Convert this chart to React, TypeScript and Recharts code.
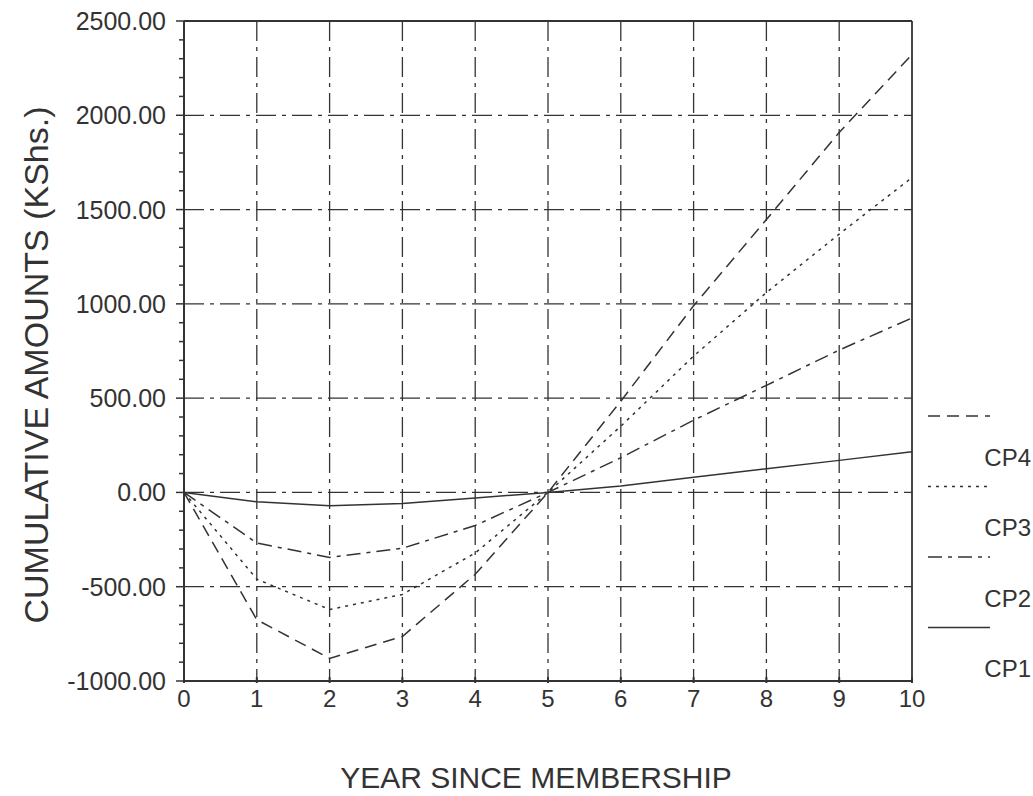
import React from "react";
import {
  LineChart,
  Line,
  XAxis,
  YAxis,
  CartesianGrid,
  ReferenceLine,
} from "recharts";

// years since membership
const years = [0, 1, 2, 3, 4, 5, 6, 7, 8, 9, 10];

// cumulative amounts (KShs.)
const cp1 = [0, -50, -71, -59, -29, 0, 34, 81, 126, 170, 216];
const cp2 = [0, -268, -345, -296, -175, 0, 184, 383, 568, 755, 925];
const cp3 = [0, -460, -621, -541, -321, 0, 351, 723, 1060, 1370, 1670];
const cp4 = [0, -675, -880, -764, -434, 0, 484, 990, 1447, 1909, 2322];

const xTicks = [0, 1, 2, 3, 4, 5, 6, 7, 8, 9, 10];
const xGrid = [1, 2, 3, 4, 5, 6, 7, 8, 9];
const yGrid = [-500, 0, 500, 1000, 1500, 2000];
const yTicks = [
  -1000, -900, -800, -700, -600, -500, -400, -300, -200, -100, 0, 100, 200,
  300, 400, 500, 600, 700, 800, 900, 1000, 1100, 1200, 1300, 1400, 1500, 1600,
  1700, 1800, 1900, 2000, 2100, 2200, 2300, 2400, 2500,
];

const series = [
  { key: "cp4", name: "CP4", dash: "12 7" },
  { key: "cp3", name: "CP3", dash: "3 5" },
  { key: "cp2", name: "CP2", dash: "14 6 4 6" },
  { key: "cp1", name: "CP1", dash: undefined as string | undefined },
];

const data = years.map((y, i) => ({
  year: y,
  cp1: cp1[i],
  cp2: cp2[i],
  cp3: cp3[i],
  cp4: cp4[i],
}));

const INK = "#333";
const FONT = "'Liberation Sans', Arial, sans-serif";

const YTick = (props: any) => {
  const { x, y, payload } = props;
  const v = payload.value as number;
  const major = v % 500 === 0;
  return (
    <g>
      <line x1={x - (major ? 8 : 5)} x2={x} y1={y} y2={y} stroke={INK} strokeWidth={1.5} />
      {major && (
        <text
          x={x - 18}
          y={y}
          dy="0.36em"
          textAnchor="end"
          fill={INK}
          fontSize={25}
          fontFamily={FONT}
        >
          {v.toFixed(2)}
        </text>
      )}
    </g>
  );
};

const XTick = (props: any) => {
  const { x, y, payload } = props;
  return (
    <g>
      <line x1={x} x2={x} y1={y - 4} y2={y + 2} stroke={INK} strokeWidth={2} />
      <text
        x={x}
        y={y + 9}
        dy="0.71em"
        textAnchor="middle"
        fill={INK}
        fontSize={24}
        fontFamily={FONT}
      >
        {payload.value}
      </text>
    </g>
  );
};

const YTitle = (props: any) => {
  const { viewBox } = props;
  const cx = 48;
  const cy = viewBox.y + viewBox.height / 2 + 14;
  return (
    <text
      x={cx}
      y={cy}
      transform={`rotate(-90 ${cx} ${cy})`}
      textAnchor="middle"
      fill={INK}
      fontSize={34}
      fontFamily={FONT}
    >
      CUMULATIVE AMOUNTS (KShs.)
    </text>
  );
};

const XTitle = (props: any) => {
  const { viewBox } = props;
  return (
    <text
      x={viewBox.x + viewBox.width / 2 - 12}
      y={viewBox.y + 107}
      textAnchor="middle"
      fill={INK}
      fontSize={30}
      fontFamily={FONT}
    >
      YEAR SINCE MEMBERSHIP
    </text>
  );
};

function AxisTitle(props: any) {
  return props.kind === "x" ? <XTitle {...props} /> : <YTitle {...props} />;
}

// legend sits to the right of the plot, sample line above each label
const SideLegend = () => (
  <svg
    width={110}
    height={290}
    style={{ position: "absolute", left: 923, top: 400 }}
  >
    {series.map((s, i) => {
      const top = i * 70.5;
      return (
        <g key={s.key}>
          <line
            x1={5}
            x2={67}
            y1={top + 16}
            y2={top + 16}
            stroke={INK}
            strokeWidth={1.5}
            strokeDasharray={s.dash}
          />
          <text
            x={108}
            y={top + 57}
            dy="0.36em"
            textAnchor="end"
            fill={INK}
            fontSize={24}
            fontFamily={FONT}
          >
            {s.name}
          </text>
        </g>
      );
    })}
  </svg>
);

export default function App() {
  return (
    <div
      style={{
        position: "absolute",
        left: 0,
        top: 0,
        width: 1033,
        height: 796,
        background: "#fff",
      }}
    >
      <LineChart
        width={1033}
        height={796}
        data={data}
        margin={{ top: 21, right: 121, bottom: 0, left: 0 }}
      >
        <CartesianGrid
          horizontalValues={yGrid}
          verticalValues={xGrid}
          stroke={INK}
          strokeWidth={1.3}
          strokeDasharray="20 6 4 6"
        />
        <XAxis
          dataKey="year"
          type="number"
          domain={[0, 10]}
          ticks={xTicks}
          height={115}
          axisLine={{ stroke: INK, strokeWidth: 2 }}
          tickLine={false}
          tickSize={0}
          tickMargin={0}
          tick={<XTick />}
          label={<AxisTitle kind="x" />}
        />
        <YAxis
          type="number"
          domain={[-1000, 2500]}
          ticks={yTicks}
          interval={0}
          width={184}
          axisLine={{ stroke: INK, strokeWidth: 2 }}
          tickLine={false}
          tickSize={0}
          tickMargin={0}
          tick={<YTick />}
          label={<AxisTitle kind="y" />}
        />
        <ReferenceLine y={2500} stroke={INK} strokeWidth={1.8} />
        <ReferenceLine x={10} stroke={INK} strokeWidth={1.8} />
        {series.map((s) => (
          <Line
            key={s.key}
            dataKey={s.key}
            name={s.name}
            type="linear"
            stroke={INK}
            strokeWidth={1.5}
            strokeDasharray={s.dash}
            dot={false}
            isAnimationActive={false}
          />
        ))}
      </LineChart>
      <SideLegend />
    </div>
  );
}
